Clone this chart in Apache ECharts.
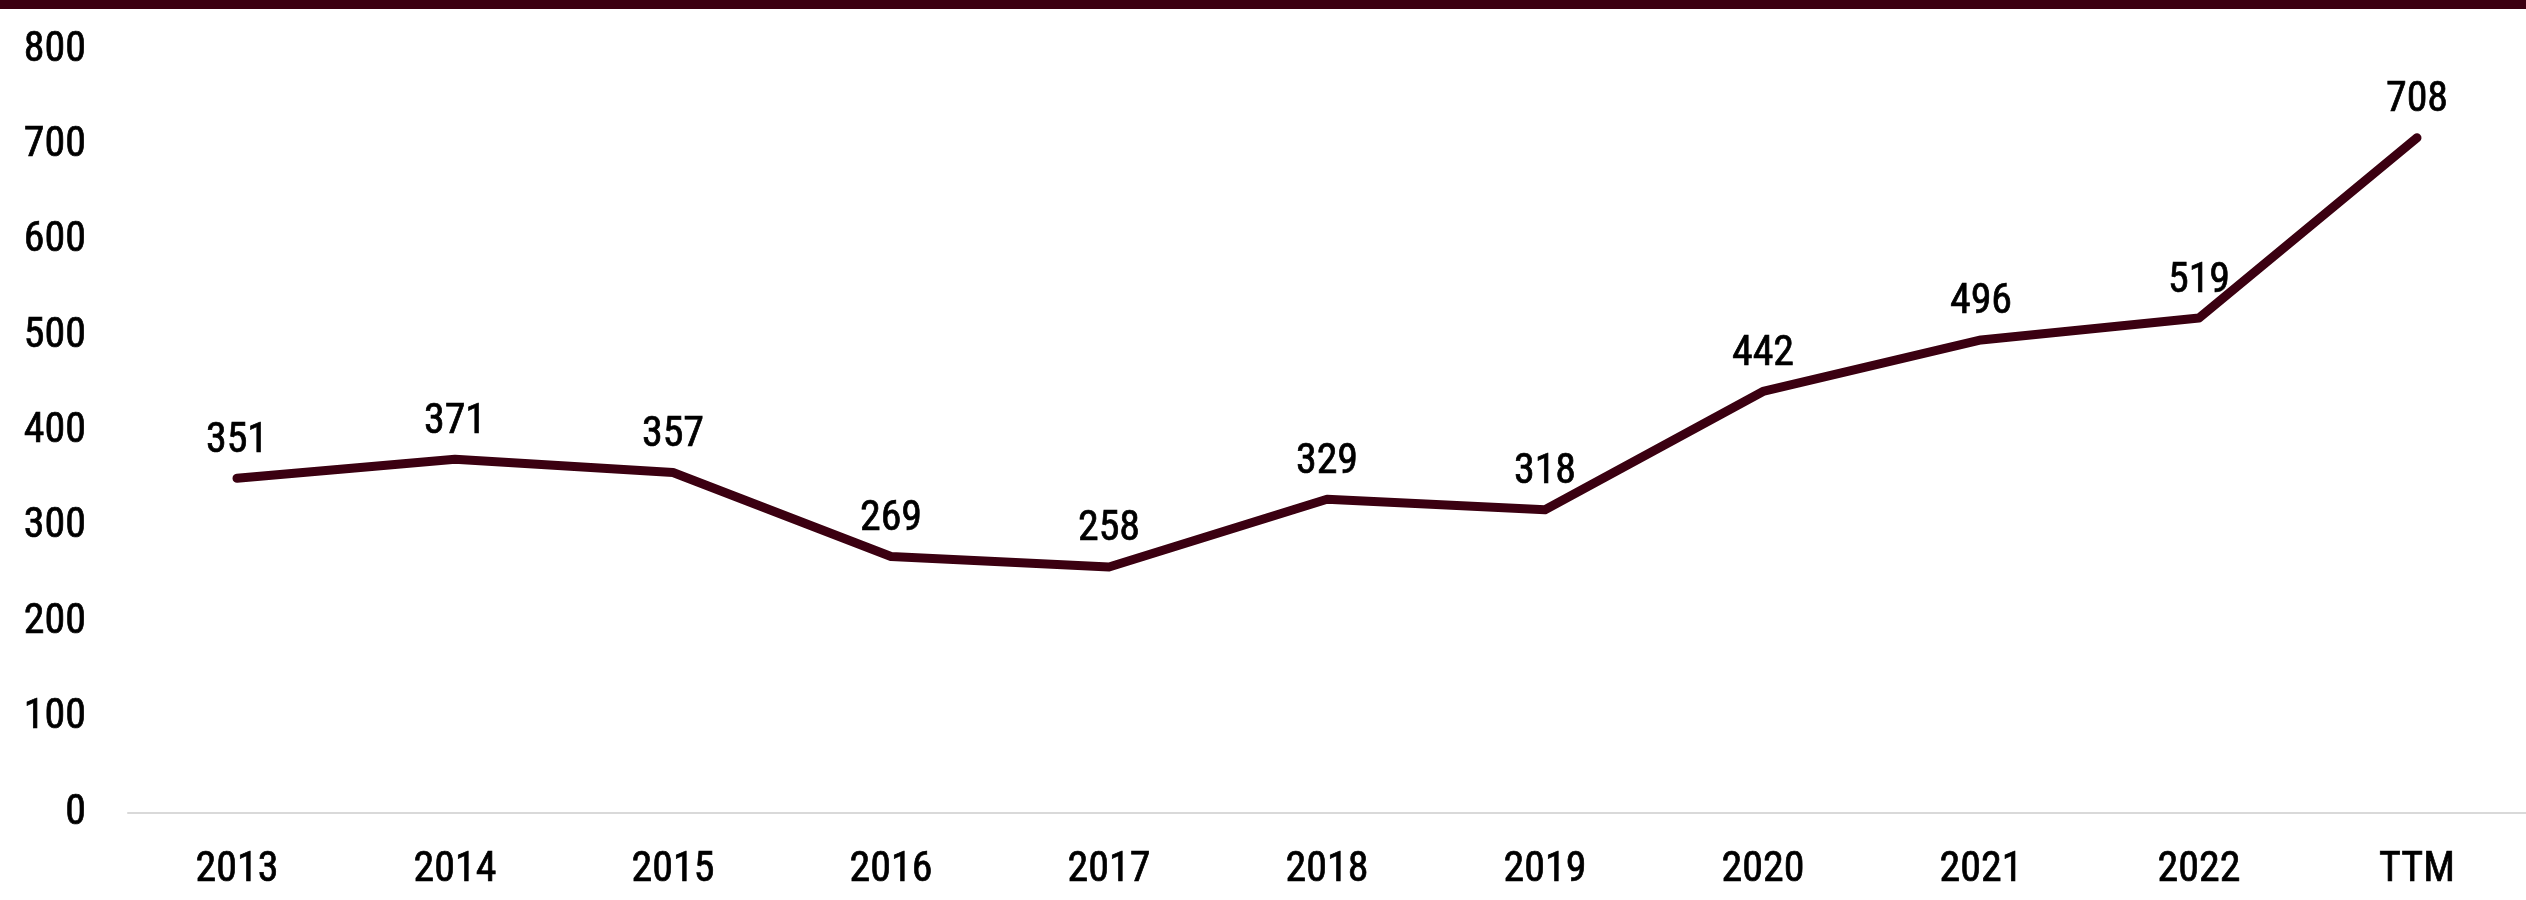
<!DOCTYPE html>
<html>
<head>
<meta charset="utf-8">
<script src="https://cdn.jsdelivr.net/npm/echarts@6/dist/echarts.min.js"></script>
<style>
  html, body { margin: 0; padding: 0; background: #ffffff; }
  #chart { width: 2526px; height: 900px; }
</style>
</head>
<body>
<div id="chart"></div>
<script>
// Yearly figures, with trailing-twelve-months as the last point
const categories = ['2013', '2014', '2015', '2016', '2017', '2018', '2019', '2020', '2021', '2022', 'TTM'];
const values = [351, 371, 357, 269, 258, 329, 318, 442, 496, 519, 708];
const yTicks = { min: 0, max: 800, interval: 100 };

const maroon = '#3b0011';
const fontFamily = '"Roboto Condensed", "DejaVu Sans Condensed", Roboto, sans-serif';
const fontSize = 42;

// slightly heavier than the regular face
const textWeight = { textBorderColor: '#000000', textBorderWidth: 0.7 };

const chart = echarts.init(document.getElementById('chart'));
chart.setOption({
  animation: false,
  backgroundColor: '#ffffff',
  textStyle: { fontFamily: fontFamily },
  graphic: [{
    type: 'rect',
    left: 0, top: 0,
    shape: { width: 2526, height: 9 },
    style: { fill: maroon }
  }],
  grid: { left: 128, right: -2, top: 50, bottom: 87, containLabel: false },
  xAxis: {
    type: 'category',
    data: categories,
    boundaryGap: true,
    axisLine: { show: true, lineStyle: { color: '#d9d9d9', width: 2 } },
    axisTick: { show: false },
    axisLabel: Object.assign({ color: '#000000', fontSize: fontSize, margin: 36, fontFamily: fontFamily }, textWeight)
  },
  yAxis: {
    type: 'value',
    min: yTicks.min, max: yTicks.max, interval: yTicks.interval,
    axisLine: { show: false },
    axisTick: { show: false },
    splitLine: { show: false },
    axisLabel: Object.assign({ color: '#000000', fontSize: fontSize, margin: 42, padding: [6, 0, 0, 0], fontFamily: fontFamily }, textWeight)
  },
  series: [{
    type: 'line',
    data: values,
    showSymbol: true,
    symbol: 'circle',
    symbolSize: 2,
    itemStyle: { color: maroon },
    lineStyle: { color: maroon, width: 9, cap: 'round', join: 'round' },
    label: Object.assign({
      show: true,
      position: 'top',
      distance: 15,
      color: '#000000',
      fontSize: fontSize,
      fontFamily: fontFamily
    }, textWeight)
  }]
});
</script>
</body>
</html>
